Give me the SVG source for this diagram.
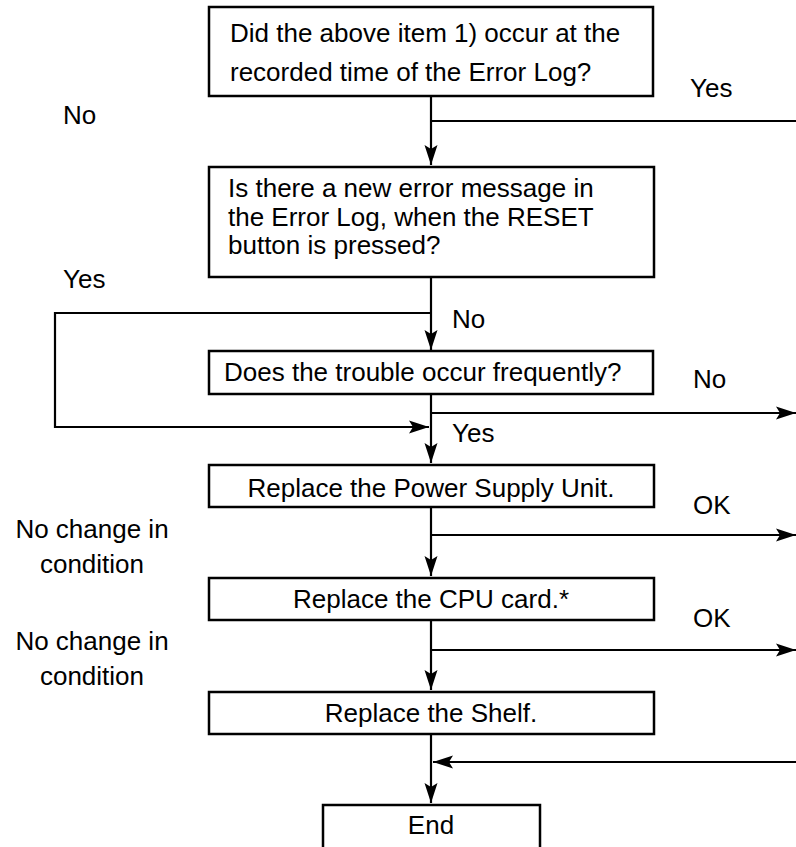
<svg xmlns="http://www.w3.org/2000/svg" width="796" height="847" viewBox="0 0 796 847">
<style>
text{font-family:"Liberation Sans",Arial,Helvetica,sans-serif;font-size:26px;fill:#000}
.box{fill:#fff;stroke:#000;stroke-width:2.5}
.ln{fill:none;stroke:#000;stroke-width:2.2}
.mid{text-anchor:middle}
</style>
<defs>
<marker id="ah" markerWidth="22" markerHeight="16" refX="20" refY="8" orient="auto" markerUnits="userSpaceOnUse">
<path d="M0,1.5 L20,8 L0,14.5 L4,8 Z" fill="#000"/>
</marker>
</defs>
<rect width="796" height="847" fill="#fff"/>
<g id="connectors">
<path class="ln" d="M431,96 V165" marker-end="url(#ah)"/>
<path class="ln" d="M431,121 H796"/>
<path class="ln" d="M431,277 V350" marker-end="url(#ah)"/>
<path class="ln" d="M431,313 H55 V427 H429" marker-end="url(#ah)"/>
<path class="ln" d="M431,394 V463" marker-end="url(#ah)"/>
<path class="ln" d="M431,413 H796" marker-end="url(#ah)"/>
<path class="ln" d="M431,507 V576" marker-end="url(#ah)"/>
<path class="ln" d="M431,535 H796" marker-end="url(#ah)"/>
<path class="ln" d="M431,620 V690" marker-end="url(#ah)"/>
<path class="ln" d="M431,650 H796" marker-end="url(#ah)"/>
<path class="ln" d="M431,734 V803" marker-end="url(#ah)"/>
<path class="ln" d="M796,762 H433" marker-end="url(#ah)"/>
</g>
<g id="n1">
<rect class="box" x="209" y="7" width="444" height="89"/>
<text x="230" y="42">Did the above item 1) occur at the</text>
<text x="230" y="81">recorded time of the Error Log?</text>
</g>
<g id="n2">
<rect class="box" x="209" y="167" width="445" height="110"/>
<text x="228" y="197">Is there a new error message in</text>
<text x="228" y="226">the Error Log, when the RESET</text>
<text x="228" y="254">button is pressed?</text>
</g>
<g id="n3">
<rect class="box" x="209" y="351" width="444" height="43"/>
<text x="224" y="381">Does the trouble occur frequently?</text>
</g>
<g id="n4">
<rect class="box" x="209" y="465" width="445" height="42"/>
<text class="mid" x="431" y="497">Replace the Power Supply Unit.</text>
</g>
<g id="n5">
<rect class="box" x="209" y="578" width="445" height="42"/>
<text class="mid" x="431" y="608">Replace the CPU card.*</text>
</g>
<g id="n6">
<rect class="box" x="209" y="692" width="445" height="42"/>
<text class="mid" x="431" y="722">Replace the Shelf.</text>
</g>
<g id="n7">
<rect class="box" x="323" y="805" width="217" height="50"/>
<text class="mid" x="431" y="834">End</text>
</g>
<g id="labels">
<text x="63" y="124">No</text>
<text x="690" y="97">Yes</text>
<text x="63" y="288">Yes</text>
<text x="452" y="328">No</text>
<text x="693" y="388">No</text>
<text x="452" y="442">Yes</text>
<text x="693" y="514">OK</text>
<text x="693" y="627">OK</text>
<text class="mid" x="92" y="538">No change in</text>
<text class="mid" x="92" y="573">condition</text>
<text class="mid" x="92" y="650">No change in</text>
<text class="mid" x="92" y="685">condition</text>
</g>
</svg>
